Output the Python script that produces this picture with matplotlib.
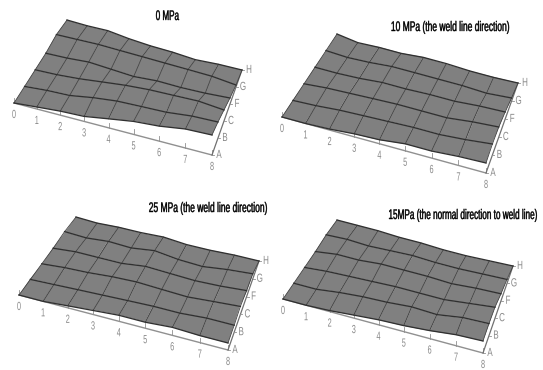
import numpy as np
import matplotlib
matplotlib.use('Agg')
import matplotlib.pyplot as plt
from matplotlib.patheffects import AbstractPathEffect
from matplotlib.text import Text
from matplotlib.transforms import Affine2D, Bbox

# x positions and rows along the two base axes
col_labels = ['0', '1', '2', '3', '4', '5', '6', '7', '8']
row_labels = ['A', 'B', 'C', 'F', 'G', 'H']

titles = ['0 MPa', '10 MPa (the weld line direction)',
          '25 MPa (the weld line direction)', '15MPa (the normal direction to weld line)']

# surface height above the base, one row per letter A..H
z_0 = [[0, 2, 4, 5, 9, 13, 15, 19, 20],
       [0, 2, 3, 7, 10, 11, 12, 15, 16],
       [0, 1, 3, 6, 9, 11, 12, 13, 11],
       [0, 1, 3, 2, 1, 3, 3, 4, 6],
       [2, 3, 4, 4, 4, 4, 4, 4, 2],
       [0, 0, 1, -1, -2, -2, -3, -1, 0]]

z_10 = [[0, 0, 1, 3, 4, 7, 7, 9, 10],
        [0, 1, 3, 4, 5, 6, 6, 8, 11],
        [0, 2, 3, 4, 5, 5, 5, 8, 10],
        [0, 0, 1, 3, 3, 4, 4, 6, 7],
        [0, -1, 0, 2, 2, 2, 2, 1, 3],
        [0, -3, -2, -2, 0, 0, -1, -1, 0]]

z_25 = [[0, 0, 2, 4, 6, 6, 8, 7, 7],
        [0, 1, 2, 3, 4, 5, 5, 7, 7],
        [0, 2, 3, 5, 6, 5, 4, 6, 8],
        [0, 2, 2, 2, 5, 4, 3, 4, 6],
        [1, 0, 2, 1, 4, 1, 0, 3, 5],
        [0, -1, 0, 0, 1, -1, -1, 0, 0]]

z_15 = [[0, 0, 1, 3, 5, 6, 8, 11, 12],
        [0, 0, 3, 5, 6, 8, 7, 11, 12],
        [0, 2, 3, 4, 5, 5, 5, 8, 11],
        [0, 3, 3, 5, 5, 5, 4, 6, 7],
        [1, 2, 1, 2, 3, 2, 2, 3, 4],
        [0, 0, 0, -1, -1, -2, -2, -1, 0]]

surfaces = [z_0, z_10, z_25, z_15]

# base corners in pixels: front-left, front-right, back-right, back-left
quads = [[(14, 103), (212, 155), (242, 70), (67, 20)],
         [(282, 117), (486, 173), (518, 83), (337, 34)],
         [(19, 295), (228, 350), (259, 261), (76, 217)],
         [(283, 299), (483, 353), (513, 266), (337, 220)]]
# titles are anchored at their right end
title_pos = [(179, 16), (510, 27), (268, 208), (538, 215)]
title_sx = [0.58, 0.61, 0.61, 0.59]

FONT = 'Liberation Sans'
GREY = '#8a8a8a'


class Squeeze(AbstractPathEffect):
    """Narrow the glyphs about the text anchor (no condensed font here)."""

    def __init__(self, sx, x0, stroke=0.0):
        super().__init__()
        self.sx = sx
        self.x0 = x0
        self.stroke = stroke

    def draw_path(self, renderer, gc, tpath, affine, rgbFace=None):
        squeezed = affine + Affine2D().translate(-self.x0, 0).scale(self.sx, 1).translate(self.x0, 0)
        gc0 = renderer.new_gc()
        gc0.copy_properties(gc)
        gc0.set_snap(False)
        gc0.set_linewidth(self.stroke)
        gc0.set_foreground(rgbFace)
        renderer.draw_path(gc0, tpath, squeezed, rgbFace)
        gc0.restore()


class NarrowText(Text):
    def __init__(self, x, y, s, sx, ha='center', **kw):
        super().__init__(x, y, s, ha=ha, va='center', family=FONT, **kw)
        self.sx = sx

    def get_window_extent(self, renderer=None, dpi=None):
        bbox = super().get_window_extent(renderer, dpi)
        width = bbox.width * self.sx
        if self.get_ha() == 'right':
            return Bbox.from_extents(bbox.x1 - width, bbox.y0, bbox.x1, bbox.y1)
        cx = (bbox.x0 + bbox.x1) / 2
        return Bbox.from_extents(cx - width / 2, bbox.y0, cx + width / 2, bbox.y1)


def narrow_text(ax, x, y, s, sx, stroke=0.0, **kw):
    t = NarrowText(x, y, s, sx, **kw)
    ax.add_artist(t)
    t.set_path_effects([Squeeze(sx, ax.transData.transform((x, y))[0], stroke)])
    return t


def project(quad, u, v, z=0.0):
    """Map column u and row v (both 0..1) onto the base quad, z goes straight up."""
    fl, fr, br, bl = [np.array(p, dtype=float) for p in quad]
    u = u - 0.09 * u * (1 - u)  # slight perspective along the long side
    front = fl + (fr - fl) * u[..., None]
    back = bl + (br - bl) * u[..., None]
    pts = front + (back - front) * v[..., None]
    return pts[..., 0], pts[..., 1] - z


def draw_panel(ax, quad, z, title, pos, sx):
    z = np.array(z, dtype=float)
    n_rows, n_cols = z.shape
    u, v = np.meshgrid(np.linspace(0, 1, n_cols), np.linspace(0, 1, n_rows))
    X, Y = project(quad, u, v, z)

    # base axes with ticks
    bx, by = project(quad, u[0], v[0])
    ax.plot(bx, by, color='#909090', lw=1.0, zorder=1)
    for i in range(n_cols):
        ax.plot([bx[i], bx[i]], [by[i], by[i] - 5], color='#909090', lw=0.6, zorder=1)
        narrow_text(ax, bx[i], by[i] + 12, col_labels[i], 0.62, color=GREY, fontsize=8.5)
    rx, ry = project(quad, u[:, -1], v[:, -1])
    ax.plot(rx, ry, color='#707070', lw=0.9, zorder=1)
    for j in range(n_rows):
        ax.plot([rx[j], rx[j] + 2], [ry[j], ry[j]], color='#909090', lw=0.6, zorder=1)
        narrow_text(ax, rx[j] + 7, ry[j], row_labels[j], 0.68, color=GREY, fontsize=8.5)

    # surface
    ax.pcolormesh(X, Y, np.zeros((n_rows - 1, n_cols - 1)), cmap='gray', vmin=-1, vmax=1,
                  shading='flat', edgecolor='none', antialiased=True, zorder=2)
    for i in range(n_cols):
        ax.plot(X[:, i], Y[:, i], color='#3a3a3a', lw=0.55, zorder=3)
    for j in range(n_rows):
        ax.plot(X[j], Y[j], color='#303030', lw=0.95, zorder=4)

    narrow_text(ax, pos[0], pos[1], title, sx, stroke=0.3, ha='right', color='black', fontsize=10)


fig = plt.figure(figsize=(5.43, 3.70), dpi=100)
ax = fig.add_axes([0, 0, 1, 1])
ax.set_xlim(0, 543)
ax.set_ylim(370, 0)
ax.axis('off')

for z, quad, title, pos, sx in zip(surfaces, quads, titles, title_pos, title_sx):
    draw_panel(ax, quad, z, title, pos, sx)

plt.savefig('out.png', dpi=100)
plt.close()
